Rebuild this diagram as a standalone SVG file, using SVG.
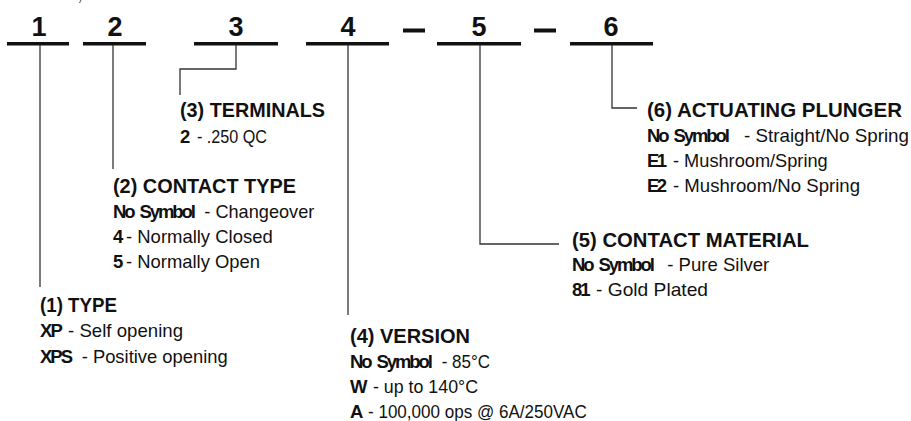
<svg xmlns="http://www.w3.org/2000/svg" width="911" height="421" viewBox="0 0 911 421">
<style>
.dg{font-family:"Liberation Sans",Arial,sans-serif;font-weight:bold;font-size:27px;fill:#111;text-anchor:middle}
.hd{font-family:"Liberation Sans",Arial,sans-serif;font-weight:bold;font-size:20px;fill:#111}
.b{font-family:"Liberation Sans",Arial,sans-serif;font-weight:bold;font-size:18.5px;fill:#111}
.ns{letter-spacing:-2.1px;word-spacing:3px}
.r{font-family:"Liberation Sans",Arial,sans-serif;font-size:19px;fill:#111}
.ul{fill:#111}
.cn{fill:none;stroke:#333;stroke-width:1.3}
</style>
<rect width="911" height="421" fill="#fff"/>
<line x1="81" y1="0" x2="79.5" y2="3" stroke="#555" stroke-width="1"/>

<g id="code-1"><text class="dg" x="39" y="35.5">1</text><rect class="ul" x="7" y="42" width="62" height="3.5"/></g>
<g id="code-2"><text class="dg" x="115" y="35.5">2</text><rect class="ul" x="83" y="42" width="63" height="3.5"/></g>
<g id="code-3"><text class="dg" x="236" y="35.5">3</text><rect class="ul" x="194" y="42" width="84" height="3.5"/></g>
<g id="code-4"><text class="dg" x="348" y="35.5">4</text><rect class="ul" x="306" y="42" width="83" height="3.5"/></g>
<g id="sep-1"><rect class="ul" x="403" y="28.5" width="22" height="4"/></g>
<g id="code-5"><text class="dg" x="479" y="35.5">5</text><rect class="ul" x="437" y="42" width="84" height="3.5"/></g>
<g id="sep-2"><rect class="ul" x="534" y="28.5" width="22" height="4"/></g>
<g id="code-6"><text class="dg" x="611" y="35.5">6</text><rect class="ul" x="570" y="42" width="83" height="3.5"/></g>

<g id="connectors">
<polyline class="cn" points="40,45 40,287"/>
<polyline class="cn" points="113,45 113,169"/>
<polyline class="cn" points="236,45 236,69 180,69 180,95"/>
<polyline class="cn" points="348,45 348,315"/>
<polyline class="cn" points="480,45 480,244 559,244"/>
<polyline class="cn" points="612,45 612,108 637,108"/>
</g>

<g id="type">
<text class="hd" x="40" y="312" textLength="77" lengthAdjust="spacingAndGlyphs">(1) TYPE</text>
<text class="b" x="40" y="337" letter-spacing="-1.8">XP</text>
<text class="r" x="68" y="337" textLength="115" lengthAdjust="spacingAndGlyphs">- Self opening</text>
<text class="b" x="40" y="362.5" letter-spacing="-2">XPS</text>
<text class="r" x="81.7" y="362.5" textLength="146" lengthAdjust="spacingAndGlyphs">- Positive opening</text>
</g>

<g id="contact-type">
<text class="hd" x="113" y="193" textLength="183" lengthAdjust="spacingAndGlyphs">(2) CONTACT TYPE</text>
<text class="b ns" x="113" y="218">No Symbol</text>
<text class="r" x="204.3" y="218" textLength="110" lengthAdjust="spacingAndGlyphs">- Changeover</text>
<text class="b" x="113" y="243">4</text>
<text class="r" x="126" y="243" textLength="146.7" lengthAdjust="spacingAndGlyphs">- Normally Closed</text>
<text class="b" x="113" y="268">5</text>
<text class="r" x="126" y="268" textLength="134" lengthAdjust="spacingAndGlyphs">- Normally Open</text>
</g>

<g id="terminals">
<text class="hd" x="180" y="117.3" textLength="145" lengthAdjust="spacingAndGlyphs">(3) TERMINALS</text>
<text class="b" x="180" y="143.3">2</text>
<text class="r" x="197" y="143.3" textLength="70" lengthAdjust="spacingAndGlyphs">- .250 QC</text>
</g>

<g id="version">
<text class="hd" x="350" y="343.3" textLength="120" lengthAdjust="spacingAndGlyphs">(4) VERSION</text>
<text class="b ns" x="350" y="368.3">No Symbol</text>
<text class="r" x="441.7" y="368.3" textLength="48.3" lengthAdjust="spacingAndGlyphs">- 85°C</text>
<text class="b" x="350" y="393.3">W</text>
<text class="r" x="373" y="393.3" textLength="105" lengthAdjust="spacingAndGlyphs">- up to 140°C</text>
<text class="b" x="350" y="418.3">A</text>
<text class="r" x="368" y="418.3" textLength="218.7" lengthAdjust="spacingAndGlyphs">- 100,000 ops @ 6A/250VAC</text>
</g>

<g id="contact-material">
<text class="hd" x="572" y="246.7" textLength="237" lengthAdjust="spacingAndGlyphs">(5) CONTACT MATERIAL</text>
<text class="b ns" x="572" y="271">No Symbol</text>
<text class="r" x="667.3" y="271" textLength="102" lengthAdjust="spacingAndGlyphs">- Pure Silver</text>
<text class="b" x="572" y="296" letter-spacing="-2">81</text>
<text class="r" x="596" y="296" textLength="112" lengthAdjust="spacingAndGlyphs">- Gold Plated</text>
</g>

<g id="actuating-plunger">
<text class="hd" x="647" y="116.7" textLength="255" lengthAdjust="spacingAndGlyphs">(6) ACTUATING PLUNGER</text>
<text class="b ns" x="647" y="141.7">No Symbol</text>
<text class="r" x="744" y="141.7" textLength="165" lengthAdjust="spacingAndGlyphs">- Straight/No Spring</text>
<text class="b" x="647" y="166.7" letter-spacing="-2.5">E1</text>
<text class="r" x="673" y="166.7" textLength="154.7" lengthAdjust="spacingAndGlyphs">- Mushroom/Spring</text>
<text class="b" x="647" y="191.7" letter-spacing="-2.5">E2</text>
<text class="r" x="673" y="191.7" textLength="187" lengthAdjust="spacingAndGlyphs">- Mushroom/No Spring</text>
</g>
</svg>
